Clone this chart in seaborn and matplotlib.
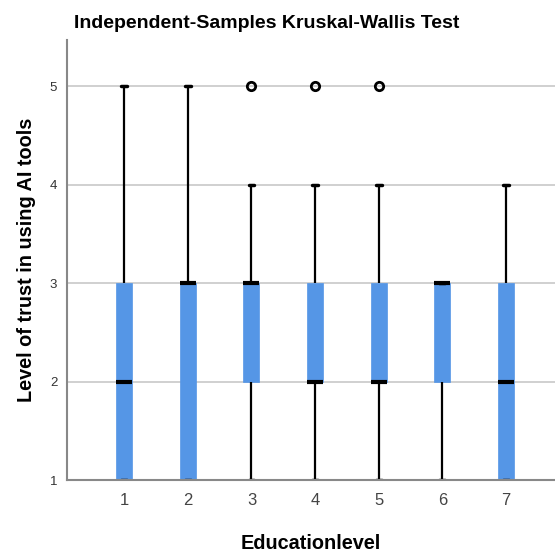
import pandas as pd
import matplotlib
import matplotlib.pyplot as plt
import seaborn as sns

matplotlib.use('Agg')

# raw trust scores per education level (chosen to reproduce the box stats)
levels = ['1', '2', '3', '4', '5', '6', '7']
level1 = [1, 1, 1, 2, 2, 3, 3, 5]
level2 = [1, 1, 1, 3, 3, 3, 3, 5]
level3 = [1, 2, 2, 3, 3, 3, 3, 4, 5]
level4 = [1, 2, 2, 2, 2, 3, 3, 4, 5]
level5 = [1, 2, 2, 2, 2, 3, 3, 4, 5]
level6 = [1, 2, 2, 3, 3, 3, 3, 3, 3]
level7 = [1, 1, 1, 2, 2, 3, 3, 4]

groups = [level1, level2, level3, level4, level5, level6, level7]
rows = []
for lvl, vals in zip(levels, groups):
    for v in vals:
        rows.append({'Educationlevel': lvl, 'trust': v})
df = pd.DataFrame(rows)

sns.set_style('white')
plt.rcParams['font.family'] = ['Liberation Sans', 'DejaVu Sans']
plt.rcParams['text.color'] = 'black'
plt.rcParams['axes.labelcolor'] = 'black'

fig = plt.figure(figsize=(5.55, 5.52), dpi=100)
ax = fig.add_axes([0.1207, 0.1304, 0.879, 0.797])

blue = '#5596E6'
sns.boxplot(data=df, x='Educationlevel', y='trust', order=levels, ax=ax,
            width=0.25, color=blue, whis=1.5,
            boxprops=dict(facecolor=blue, edgecolor=blue, linewidth=0.5),
            medianprops=dict(color='black', linewidth=3),
            whiskerprops=dict(color='black', linewidth=1.6),
            capprops=dict(color='black', linewidth=2.5),
            capwidths=0.09,
            flierprops=dict(marker='o', markersize=6, markerfacecolor='none',
                            markeredgecolor='black', markeredgewidth=2))

ax.set_ylim(1, 5.47)
ax.set_xlim(-0.9, 6.77)
ax.set_yticks([1, 2, 3, 4, 5])
ax.yaxis.grid(True, color='#c8c8c8', linewidth=1.2)
ax.set_axisbelow(True)
for s in ['top', 'right']:
    ax.spines[s].set_visible(False)
for s in ['left', 'bottom']:
    ax.spines[s].set_color('#888888')
    ax.spines[s].set_linewidth(1.5)

ax.tick_params(axis='y', length=0, labelsize=9.5, colors='#333333', pad=7)
ax.tick_params(axis='x', length=0, labelsize=12, colors='#444444', pad=9)

ax.set_xlabel('Educationlevel', fontsize=14.3, fontweight='bold', labelpad=19)
ax.set_ylabel('Level of trust in using AI tools', fontsize=14.3, fontweight='bold', labelpad=10)
fig.text(0.48, 0.958, 'Independent-Samples Kruskal-Wallis Test', ha='center', va='center',
         fontsize=14, fontweight='bold')

plt.savefig('out.png', dpi=100)
plt.close()
